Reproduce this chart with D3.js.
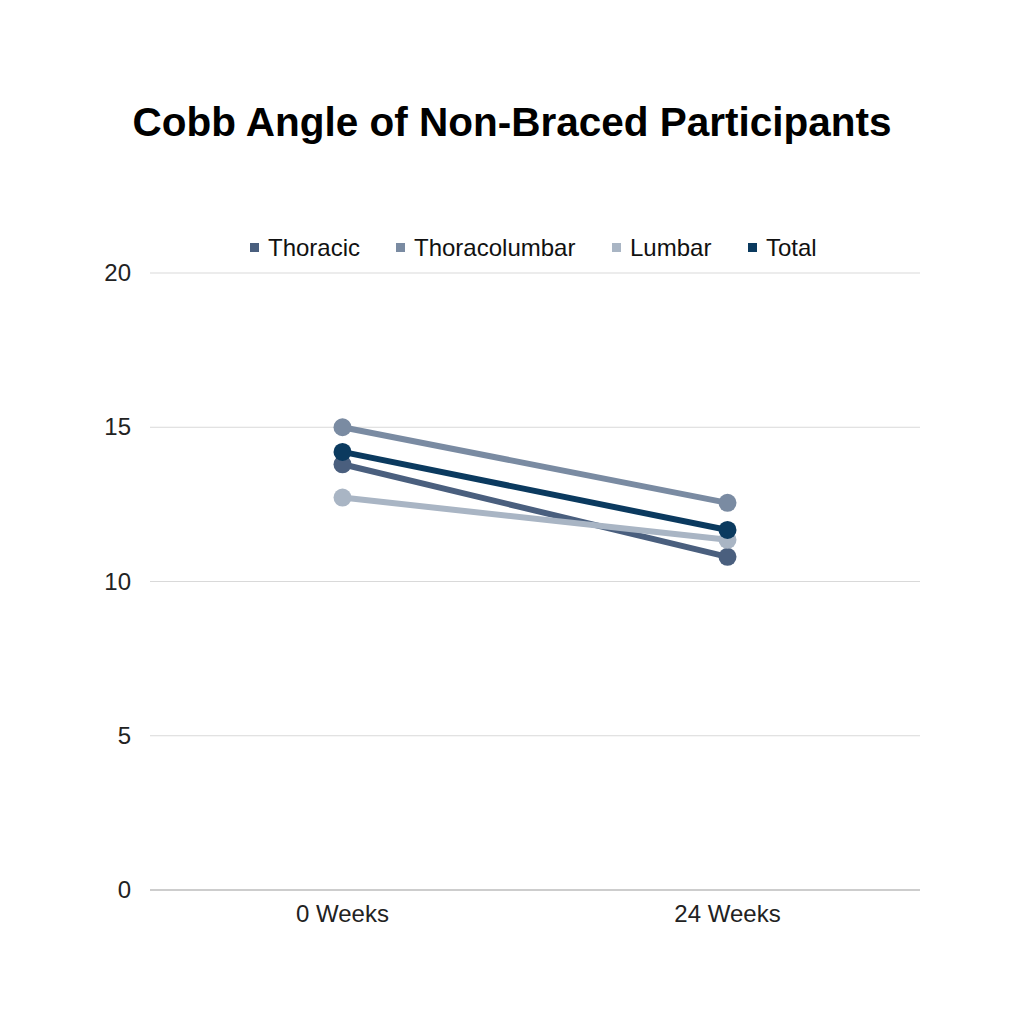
<!DOCTYPE html>
<html><head><meta charset="utf-8">
<script src="https://cdn.jsdelivr.net/npm/d3@7"></script>
<style>body{margin:0;background:#fff}svg{display:block}</style>
</head><body>
<svg id="c" width="1024" height="1024"></svg>
<script>
const categories = ["0 Weeks", "24 Weeks"];
const seriesNames = ["Thoracic", "Thoracolumbar", "Lumbar", "Total"];
const thoracic = [13.8, 10.8];
const thoracolumbar = [15.0, 12.55];
const lumbar = [12.72, 11.35];
const total = [14.2, 11.67];
const yTicks = [0, 5, 10, 15, 20];
const colors = ["#4a5f7e", "#7a8ba2", "#a9b5c4", "#0b3a5f"];

const series = [thoracic, thoracolumbar, lumbar, total];
const svg = d3.select("#c");
const font = "'Liberation Sans', Arial, sans-serif";
svg.append("rect").attr("width",1024).attr("height",1024).attr("fill","#fff");

const x = d3.scalePoint().domain(categories).range([150, 920]).padding(0.5);
const y = d3.scaleLinear().domain([0, 20]).range([890, 273]);

svg.append("text").attr("x", 512).attr("y", 136).attr("text-anchor","middle")
  .attr("font-family", font).attr("font-weight","bold").attr("font-size", 40.5).attr("fill","#000")
  .text("Cobb Angle of Non-Braced Participants");

const g = svg.append("g");
g.selectAll("line.grid").data(yTicks).join("line")
  .attr("x1",150).attr("x2",920).attr("y1",d=>y(d)).attr("y2",d=>y(d))
  .attr("stroke", d=> d===0 ? "#bdbdbd" : "#d9d9d9").attr("stroke-width", d=> d===0?1.5:1);
g.selectAll("text.yt").data(yTicks).join("text")
  .attr("x",131).attr("y",d=>y(d)+8).attr("text-anchor","end")
  .attr("font-family",font).attr("font-size",24).attr("fill","#222").text(d=>d);
g.selectAll("text.xt").data(categories).join("text")
  .attr("x",d=>x(d)).attr("y",922).attr("text-anchor","middle")
  .attr("font-family",font).attr("font-size",24).attr("fill","#222").text(d=>d);

const line = d3.line().x((d,i)=>x(categories[i])).y(d=>y(d));
series.forEach((s,k)=>{
  svg.append("path").datum(s).attr("d",line).attr("fill","none")
    .attr("stroke",colors[k]).attr("stroke-width",6);
  svg.selectAll(null).data(s).join("circle")
    .attr("cx",(d,i)=>x(categories[i])).attr("cy",d=>y(d)).attr("r",9).attr("fill",colors[k]);
});

const legendX = [250, 396, 612, 748];
seriesNames.forEach((n,k)=>{
  svg.append("rect").attr("x",legendX[k]).attr("y",243).attr("width",9).attr("height",9).attr("fill",colors[k]);
  svg.append("text").attr("x",legendX[k]+18).attr("y",256).attr("font-family",font).attr("font-size",24)
    .attr("fill","#111").text(n);
});
</script>
</body></html>
